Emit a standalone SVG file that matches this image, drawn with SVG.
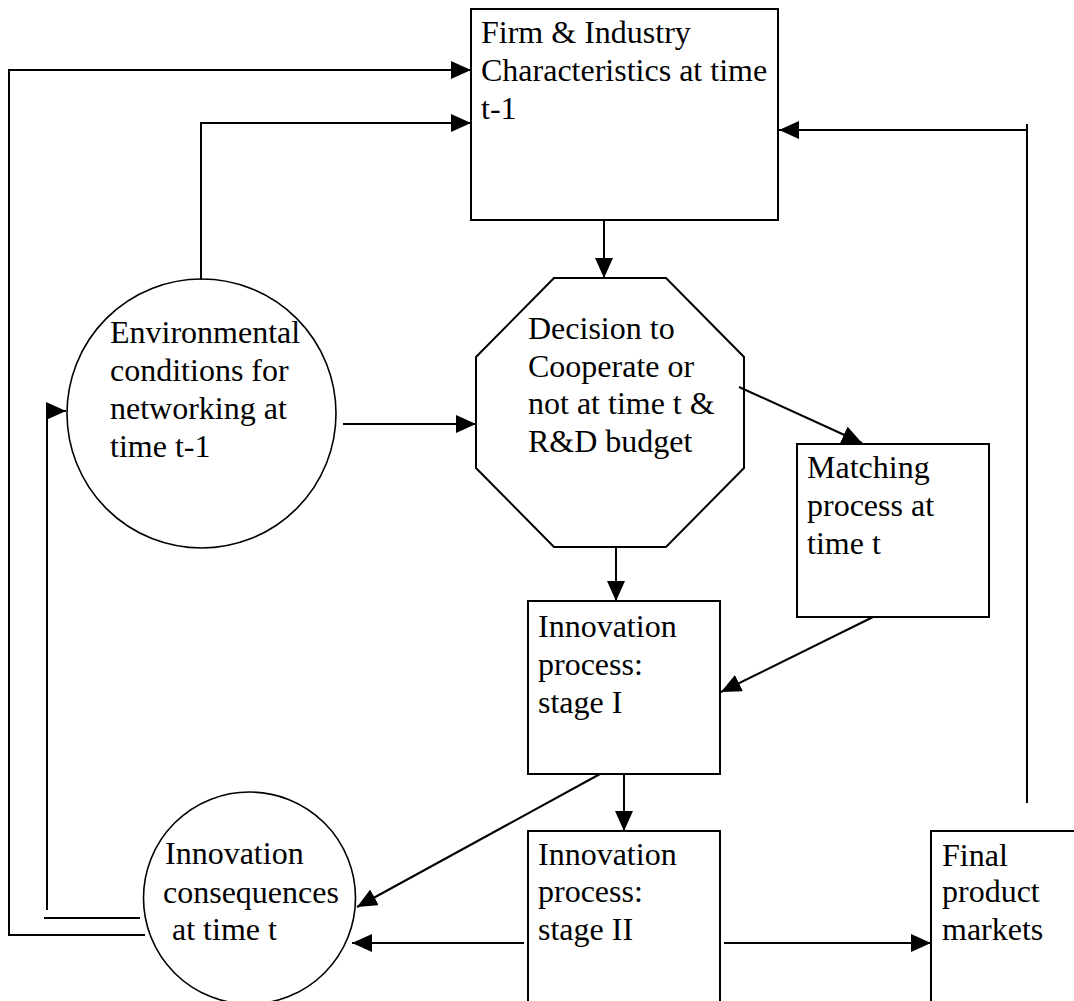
<svg xmlns="http://www.w3.org/2000/svg" width="1074" height="1001" viewBox="0 0 1074 1001">
<style>
.shape{fill:#fff;stroke:#000;stroke-width:2}
.circ{fill:#fff;stroke:#000;stroke-width:1.6}
.ln{fill:none;stroke:#000;stroke-width:2}
text{font-family:"Liberation Serif","Times New Roman",serif;font-size:32px;fill:#000}
</style>
<defs>
<marker id="ah" markerUnits="userSpaceOnUse" markerWidth="20" markerHeight="18" refX="20" refY="9" orient="auto">
<path d="M0,0 L20,9 L0,18 z" fill="#000"/>
</marker>
</defs>
<rect width="1074" height="1001" fill="#fff"/>
<g id="firm">
<rect class="shape" x="471" y="9" width="307" height="211"/>
<text x="481" y="43">Firm &amp; Industry</text>
<text x="481" y="81">Characteristics at time</text>
<text x="481" y="119">t-1</text>
</g>
<g id="env">
<circle class="circ" cx="201.5" cy="413.5" r="134.5"/>
<text x="110" y="343">Environmental</text>
<text x="110" y="381">conditions for</text>
<text x="110" y="419">networking at</text>
<text x="110" y="457">time t-1</text>
</g>
<g id="decision">
<polygon class="shape" points="554,278 666,278 744,357 744,468 666,547 554,547 476,468 476,357"/>
<text x="528" y="339">Decision to</text>
<text x="528" y="377">Cooperate or</text>
<text x="528" y="414">not at time t &amp;</text>
<text x="528" y="452">R&amp;D budget</text>
</g>
<g id="matching">
<rect class="shape" x="797" y="444" width="192" height="173"/>
<text x="807" y="478">Matching</text>
<text x="807" y="516">process at</text>
<text x="807" y="554">time t</text>
</g>
<g id="stage1">
<rect class="shape" x="528" y="601" width="192" height="173"/>
<text x="538" y="637">Innovation</text>
<text x="538" y="675">process:</text>
<text x="538" y="713">stage I</text>
</g>
<g id="consequences">
<circle class="circ" cx="249.5" cy="898" r="106"/>
<text x="165" y="864">Innovation</text>
<text x="163" y="903">consequences</text>
<text x="164" y="940" xml:space="preserve"> at time t</text>
</g>
<g id="stage2">
<rect class="shape" x="528" y="831" width="192" height="200"/>
<text x="538" y="865">Innovation</text>
<text x="538" y="902">process:</text>
<text x="538" y="940">stage II</text>
</g>
<g id="final">
<rect class="shape" x="931" y="831" width="180" height="200"/>
<text x="942" y="866">Final</text>
<text x="942" y="902">product</text>
<text x="942" y="940">markets</text>
</g>
<g id="connectors">
<polyline class="ln" points="145,935 9,935 9,70 471,70" marker-end="url(#ah)"/>
<polyline class="ln" points="201,280 201,123 471,123" marker-end="url(#ah)"/>
<polyline class="ln" points="140,918 44,918"/>
<polyline class="ln" points="47,910 47,411 66,411" marker-end="url(#ah)"/>
<line class="ln" x1="1027" y1="124" x2="1027" y2="803"/>
<line class="ln" x1="1027" y1="130" x2="779" y2="130" marker-end="url(#ah)"/>
<line class="ln" x1="604" y1="220" x2="604" y2="278" marker-end="url(#ah)"/>
<line class="ln" x1="343" y1="424" x2="476" y2="424" marker-end="url(#ah)"/>
<line class="ln" x1="739" y1="387" x2="862" y2="443" marker-end="url(#ah)"/>
<line class="ln" x1="616" y1="547" x2="616" y2="601" marker-end="url(#ah)"/>
<line class="ln" x1="873" y1="617" x2="721" y2="692" marker-end="url(#ah)"/>
<line class="ln" x1="600" y1="774" x2="357" y2="907" marker-end="url(#ah)"/>
<line class="ln" x1="624" y1="774" x2="624" y2="831" marker-end="url(#ah)"/>
<line class="ln" x1="524" y1="943" x2="352" y2="943" marker-end="url(#ah)"/>
<line class="ln" x1="724" y1="943" x2="931" y2="943" marker-end="url(#ah)"/>
</g>
</svg>
